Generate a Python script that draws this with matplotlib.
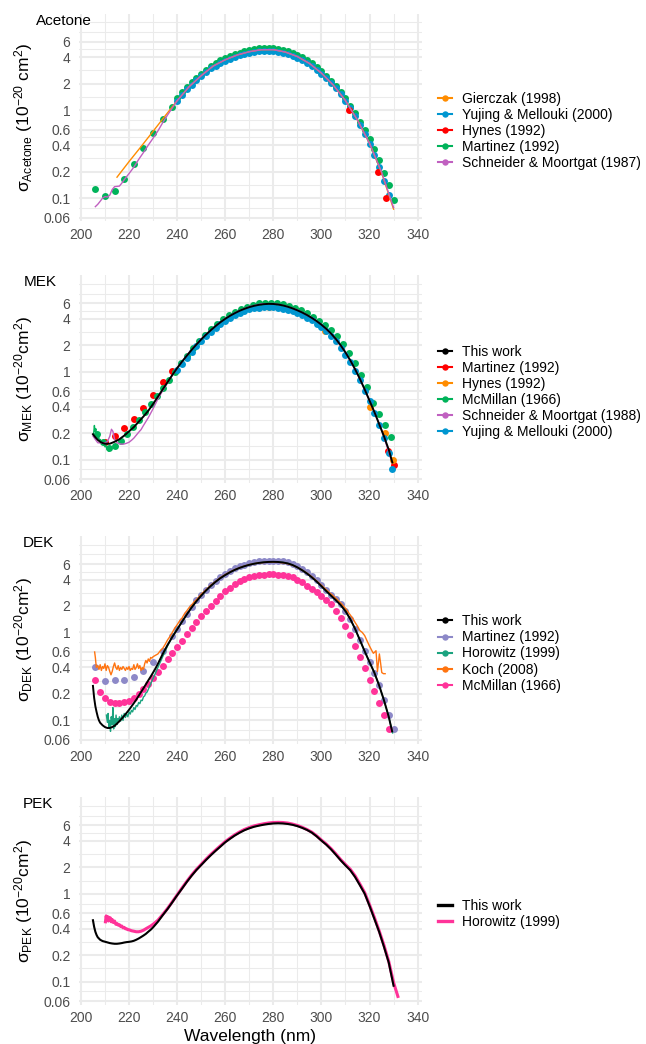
import matplotlib
matplotlib.use('Agg')
import matplotlib.pyplot as plt
from matplotlib.lines import Line2D
from matplotlib.ticker import NullLocator

plt.rcParams['font.family'] = ['Liberation Sans', 'DejaVu Sans']
plt.rcParams['mathtext.fontset'] = 'custom'
plt.rcParams['mathtext.rm'] = 'Liberation Sans'
plt.rcParams['mathtext.it'] = 'Liberation Sans:italic'
plt.rcParams['mathtext.bf'] = 'Liberation Sans:bold'

# ---------------- axis definitions ----------------
x_breaks = [200, 220, 240, 260, 280, 300, 320, 340]
y_breaks = [0.06, 0.1, 0.2, 0.4, 0.6, 1, 2, 4, 6]
y_labels = ['0.06', '0.1', '0.2', '0.4', '0.6', '1', '2', '4', '6']

# ---------------- Acetone ----------------
ac_gierczak_wl = [215, 220, 225, 230, 235, 240, 245, 250, 255, 260, 265, 270, 275, 280,
                  285, 290, 295, 300, 305, 310, 315, 320, 325, 330]
ac_gierczak = [0.173, 0.26, 0.385, 0.575, 0.86, 1.28, 1.85, 2.47, 3.18, 3.74, 4.24, 4.62, 4.87, 4.88,
               4.58, 4.07, 3.40, 2.64, 1.92, 1.29, 0.77, 0.42, 0.195, 0.075]

ac_yujing_wl = list(range(240, 329, 2))
ac_yujing = [1.28, 1.50, 1.72, 1.94, 2.18, 2.44, 2.72, 2.98, 3.22, 3.46,
             3.66, 3.85, 4.03, 4.20, 4.35, 4.48, 4.58, 4.66, 4.70, 4.70,
             4.67, 4.60, 4.48, 4.33, 4.15, 3.95, 3.72, 3.46, 3.18, 2.90,
             2.61, 2.32, 2.04, 1.77, 1.52, 1.28, 1.05, 0.85, 0.68, 0.53,
             0.41, 0.31, 0.225, 0.158, 0.108]

ac_hynes_wl = [311.6, 323.5, 327.0]
ac_hynes = [1.0, 0.2, 0.1]

ac_martinez_wl = [206, 210, 214, 218, 222, 226, 230, 234, 238] + list(range(240, 331, 2))
ac_martinez = [0.128, 0.106, 0.122, 0.166, 0.247, 0.37, 0.545, 0.79, 1.10,
               1.36, 1.60, 1.83, 2.07, 2.33, 2.60, 2.90, 3.18, 3.44, 3.70,
               3.92, 4.13, 4.33, 4.52, 4.69, 4.84, 4.96, 5.05, 5.10, 5.11,
               5.08, 5.00, 4.86, 4.70, 4.49, 4.26, 3.99, 3.71, 3.40, 3.09,
               2.78, 2.47, 2.17, 1.89, 1.62, 1.37, 1.13, 0.92, 0.74, 0.59,
               0.465, 0.36, 0.27, 0.195, 0.14, 0.095]

ac_schneider_wl = [206, 207, 208, 209, 210, 211, 212, 213, 214, 215, 216, 217, 218,
                   220, 222, 224, 226, 228, 230, 232, 234, 236, 238, 240,
                   245, 250, 255, 260, 265, 270, 275, 280, 285, 290, 295, 300, 305, 310,
                   315, 320, 325, 330]
ac_schneider = [0.080, 0.085, 0.092, 0.100, 0.104, 0.103, 0.108, 0.125, 0.135, 0.136, 0.137, 0.148, 0.162,
                0.19, 0.225, 0.275, 0.33, 0.40, 0.48, 0.58, 0.72, 0.88, 1.06, 1.28,
                1.85, 2.46, 3.17, 3.74, 4.24, 4.62, 4.87, 4.87, 4.58, 4.07, 3.40, 2.64, 1.92, 1.28,
                0.77, 0.42, 0.198, 0.078]

# ---------------- MEK ----------------
mek_this_wl = [205, 206, 207, 208, 209, 210] + list(range(212, 329, 2)) + [329.5]
mek_this = [0.195, 0.180, 0.168, 0.160, 0.155, 0.152,
            0.152, 0.160, 0.171, 0.188, 0.21, 0.235, 0.27, 0.31, 0.36, 0.43,
            0.52, 0.63, 0.76, 0.92, 1.10, 1.30, 1.52, 1.77, 2.04, 2.33,
            2.64, 2.97, 3.31, 3.66, 4.00, 4.33, 4.64, 4.94, 5.20, 5.43,
            5.62, 5.77, 5.87, 5.92, 5.90, 5.82, 5.68, 5.49, 5.26, 5.00,
            4.72, 4.42, 4.10, 3.77, 3.43, 3.08, 2.72, 2.36, 2.00, 1.66,
            1.35, 1.07, 0.83, 0.63, 0.47, 0.35, 0.255, 0.185, 0.13,
            0.093]

mek_martinez_wl = [210, 214, 218, 222, 226, 230, 234, 238, 327.8, 330.3]
mek_martinez = [0.16, 0.186, 0.228, 0.289, 0.39, 0.54, 0.76, 1.03, 0.125, 0.087]

mek_hynes_wl = [278, 301.5, 320, 326.4, 329.9]
mek_hynes = [5.5, 2.9, 0.40, 0.20, 0.10]

mek_mcmillan_wl = [206.5 + 2.5 * k for k in range(50)]
mek_mcmillan = [0.195, 0.16, 0.135, 0.143, 0.163, 0.195, 0.235, 0.285, 0.35, 0.43,
                0.53, 0.66, 0.81, 1.0, 1.25, 1.52, 1.86, 2.22, 2.62, 3.05,
                3.5, 3.95, 4.38, 4.8, 5.15, 5.5, 5.78, 5.98, 6.1, 6.12,
                6.05, 5.9, 5.65, 5.35, 5.0, 4.62, 4.22, 3.8, 3.38, 2.95,
                2.52, 2.05, 1.62, 1.25, 0.92, 0.68, 0.44, 0.33, 0.245, 0.18]
mek_mcmillan_trace_wl = [205.3, 205.6, 205.9, 206.2, 206.5, 206.8, 207.1, 207.4, 207.7, 208.0,
                         208.4, 208.8, 209.2, 209.6, 210.0, 210.4, 210.8, 211.2, 211.6, 212.0]
mek_mcmillan_trace = [0.20, 0.245, 0.21, 0.225, 0.19, 0.20, 0.175, 0.18, 0.165, 0.17,
                      0.155, 0.16, 0.148, 0.152, 0.14, 0.145, 0.132, 0.138, 0.125, 0.13]

mek_schneider_wl = [205, 206, 207, 208, 209, 210, 211, 212, 212.7, 213.3,
                    214, 215, 216, 217, 218, 219, 220, 221, 222, 223, 224, 225, 226,
                    228, 230, 232, 234, 236, 238, 240,
                    245, 250, 255, 260, 265, 270, 275, 280, 285, 290, 295, 300, 305, 310, 315, 320, 325,
                    329]
mek_schneider = [0.186, 0.17, 0.156, 0.155, 0.155, 0.156, 0.16, 0.185, 0.222, 0.21,
                 0.17, 0.156, 0.152, 0.150, 0.151, 0.154, 0.158, 0.166, 0.176, 0.19, 0.205, 0.22, 0.245,
                 0.30, 0.38, 0.49, 0.61, 0.75, 0.91, 1.10,
                 1.66, 2.36, 3.15, 4.05, 4.85, 5.50, 5.92, 5.97, 5.62, 5.05, 4.30, 3.45, 2.55, 1.67, 0.95, 0.47, 0.22,
                 0.10]

mek_yujing_wl = list(range(240, 329, 2)) + [329.5]
mek_yujing = [1.05, 1.24, 1.45, 1.69, 1.95, 2.23, 2.53, 2.84, 3.16, 3.49,
              3.81, 4.12, 4.41, 4.68, 4.92, 5.11, 5.26, 5.37, 5.43, 5.44,
              5.41, 5.34, 5.22, 5.06, 4.87, 4.64, 4.39, 4.12, 3.83, 3.52,
              3.20, 2.88, 2.54, 2.21, 1.88, 1.57, 1.28, 1.02, 0.80, 0.61,
              0.46, 0.34, 0.245, 0.175, 0.12,
              0.079]

# ---------------- DEK ----------------
dek_this_wl = [205, 205.5, 206, 206.5, 207, 207.5] + list(range(208, 241)) + list(range(242, 329, 2)) + [329.4]
dek_this = [0.247, 0.18, 0.145, 0.125, 0.11, 0.10,
            0.094, 0.088, 0.084, 0.082, 0.082, 0.084, 0.087, 0.092, 0.098, 0.105,
            0.113, 0.122, 0.132, 0.144, 0.157, 0.172, 0.19, 0.21, 0.232, 0.257,
            0.285, 0.315, 0.35, 0.39, 0.44, 0.50, 0.57, 0.64, 0.72, 0.80,
            0.89, 0.98, 1.08,
            1.32, 1.60, 1.92, 2.26, 2.62, 3.00, 3.38, 3.77, 4.15, 4.50,
            4.84, 5.15, 5.43, 5.67, 5.88, 6.05, 6.18, 6.28, 6.34, 6.36,
            6.33, 6.25, 6.10, 5.85, 5.50, 5.10, 4.68, 4.24, 3.80, 3.36,
            2.96, 2.62, 2.33, 2.05, 1.75, 1.42, 1.10, 0.82, 0.61, 0.46,
            0.35, 0.25, 0.17, 0.11,
            0.075]

dek_martinez_wl = [206, 210, 214, 218, 222, 226, 230, 234] + list(range(238, 331, 2))
dek_martinez = [0.41, 0.28, 0.285, 0.29, 0.31, 0.36, 0.46, 0.62,
                0.90, 1.10, 1.35, 1.64, 1.97, 2.32, 2.69, 3.08, 3.48, 3.88,
                4.28, 4.66, 5.02, 5.35, 5.65, 5.90, 6.12, 6.30, 6.43, 6.52,
                6.57, 6.57, 6.53, 6.43, 6.26, 6.00, 5.66, 5.27, 4.85, 4.40,
                3.94, 3.48, 3.06, 2.70, 2.38, 2.08, 1.76, 1.43, 1.10, 0.82,
                0.61, 0.46, 0.35, 0.25, 0.17, 0.115, 0.08]

dek_horowitz_wl = [210.6, 211.0, 211.3, 211.6, 212.0, 212.3, 212.6, 213.0, 213.3, 213.6,
                   214.0, 214.3, 214.6, 215.0, 215.3, 215.6, 216.0, 216.5, 217.0, 217.5,
                   218.0, 218.5, 219.0, 219.5, 220.0, 220.5, 221.0, 221.5, 222.0, 222.5,
                   223.0, 223.5, 224.0, 224.5, 225.0, 225.5, 226.0, 226.5, 227.0, 227.5, 228.0] \
                  + list(range(229, 241)) + list(range(242, 329, 2)) + [329.6]
dek_horowitz = [0.115, 0.095, 0.12, 0.085, 0.10, 0.075, 0.11, 0.09, 0.14, 0.08,
                0.105, 0.085, 0.115, 0.09, 0.105, 0.095, 0.11, 0.098, 0.115, 0.10,
                0.12, 0.108, 0.118, 0.11, 0.125, 0.118, 0.13, 0.125, 0.14, 0.133,
                0.148, 0.145, 0.16, 0.155, 0.17, 0.168, 0.185, 0.19, 0.205, 0.21, 0.225,
                0.26, 0.30, 0.345, 0.40, 0.46, 0.53, 0.61, 0.70, 0.79, 0.89, 0.99, 1.10,
                1.32, 1.60, 1.92, 2.26, 2.62, 3.00, 3.38, 3.77, 4.15, 4.50,
                4.84, 5.15, 5.43, 5.67, 5.88, 6.05, 6.18, 6.28, 6.34, 6.36,
                6.33, 6.25, 6.10, 5.85, 5.50, 5.10, 4.68, 4.24, 3.80, 3.36,
                2.96, 2.62, 2.33, 2.05, 1.75, 1.42, 1.10, 0.82, 0.61, 0.46,
                0.35, 0.25, 0.17, 0.11,
                0.072]

dek_koch_wl = [205.7, 206.0, 206.4, 207.0, 207.5, 208.0, 208.5, 209.0, 209.5, 210.0,
               210.5, 211.0, 211.5, 212.0, 212.5, 213.0, 213.5, 214.0, 214.5, 215.0,
               215.5, 216.0, 216.5, 217.0, 217.5, 218.0, 218.5, 219.0, 219.5, 220.0,
               220.5, 221.0, 221.5, 222.0, 222.5, 223.0, 223.5, 224.0, 224.5, 225.0,
               225.5, 226.0, 226.5, 227.0, 227.5, 228.0, 228.5, 229.0, 229.5, 230.0,
               231, 232, 233, 234, 235, 236, 237, 238, 239, 240, 241, 242, 243, 244, 245, 246, 247, 248] \
              + list(range(250, 311, 2)) \
              + [311, 312, 313, 314, 315, 316, 317, 318, 319, 320, 321, 321.6, 322.2, 322.7, 323.3,
                 323.7, 324.1, 324.6, 325.1, 325.8, 326.5]
dek_koch = [0.60, 0.52, 0.40, 0.42, 0.38, 0.43, 0.37, 0.41, 0.39, 0.44,
            0.37, 0.42, 0.40, 0.36, 0.33, 0.36, 0.41, 0.45, 0.40, 0.38,
            0.42, 0.37, 0.40, 0.38, 0.41, 0.39, 0.37, 0.40, 0.38, 0.41,
            0.37, 0.39, 0.38, 0.43, 0.38, 0.40, 0.44, 0.39, 0.42, 0.37,
            0.40, 0.38, 0.44, 0.48, 0.45, 0.50, 0.47, 0.52, 0.51, 0.53,
            0.55, 0.57, 0.62, 0.66, 0.73, 0.82, 0.90, 1.00, 1.12, 1.22, 1.35, 1.45, 1.62, 1.76, 1.92, 2.05, 2.22, 2.35,
            2.72, 3.05, 3.45, 3.80, 4.20, 4.55, 4.88, 5.18, 5.45, 5.70,
            5.90, 6.05, 6.18, 6.25, 6.30, 6.32, 6.28, 6.20, 6.05, 5.82,
            5.50, 5.12, 4.72, 4.30, 3.86, 3.44, 3.06, 2.74, 2.45, 2.17, 1.88,
            1.72, 1.58, 1.45, 1.30, 1.18, 1.05, 1.0, 0.92, 0.80, 0.70, 0.62, 0.58, 0.60, 0.62, 0.36,
            0.45, 0.57, 0.45, 0.35, 0.34, 0.34]

dek_mcmillan_wl = list(range(206, 329, 2))
dek_mcmillan = [0.287, 0.212, 0.181, 0.163, 0.158, 0.157, 0.16, 0.168, 0.182, 0.202,
                0.228, 0.262, 0.305, 0.355, 0.42, 0.50, 0.59, 0.69, 0.81, 0.96,
                1.13, 1.31, 1.53, 1.76, 2.02, 2.30, 2.60, 2.93, 3.22, 3.52,
                3.80, 4.03, 4.22, 4.38, 4.49, 4.56, 4.60, 4.60, 4.56, 4.49,
                4.38, 4.22, 3.96, 3.70, 3.40, 3.15, 2.88, 2.62, 2.36, 2.08,
                1.76, 1.46, 1.18, 0.93, 0.71, 0.53, 0.39, 0.29, 0.215, 0.157,
                0.115, 0.080]

# ---------------- PEK ----------------
pek_this_wl = [205, 205.5, 206, 206.5, 207] + list(range(208, 231)) + list(range(232, 331, 2))
pek_this = [0.50, 0.42, 0.37, 0.34, 0.32,
            0.30, 0.29, 0.285, 0.28, 0.275, 0.272, 0.270, 0.270, 0.272, 0.275,
            0.279, 0.282, 0.284, 0.287, 0.292, 0.30, 0.31, 0.322, 0.335, 0.35,
            0.37, 0.39, 0.415,
            0.48, 0.57, 0.67, 0.80, 0.96, 1.14, 1.36, 1.60, 1.86, 2.12,
            2.42, 2.74, 3.08, 3.44, 3.85, 4.22, 4.60, 4.95, 5.28, 5.55,
            5.78, 5.95, 6.10, 6.22, 6.30, 6.33, 6.30, 6.22, 6.08, 5.88,
            5.62, 5.32, 4.96, 4.50, 4.02, 3.62, 3.20, 2.78, 2.40, 2.10,
            1.85, 1.55, 1.25, 1.0, 0.73, 0.52, 0.37, 0.25, 0.165, 0.09]

pek_horowitz_wl = [210.2, 210.5, 210.8, 211.1, 211.4, 211.7, 212.0, 212.3, 212.6, 213.0,
                   213.5, 214.0, 214.5, 215.0, 215.5, 216.0, 216.5, 217.0, 217.5, 218.0,
                   218.5, 219.0, 219.5, 220.0,
                   221, 222, 223, 224, 225, 226, 227, 228, 229, 230,
                   232, 234, 236, 238, 240] + list(range(242, 331, 2)) + [331.8]
pek_horowitz = [0.48, 0.56, 0.50, 0.55, 0.49, 0.54, 0.50, 0.53, 0.48, 0.51,
                0.47, 0.49, 0.45, 0.46, 0.44, 0.445, 0.425, 0.43, 0.41, 0.415,
                0.40, 0.40, 0.39, 0.39,
                0.38, 0.375, 0.37, 0.37, 0.375, 0.385, 0.40, 0.415, 0.43, 0.45,
                0.50, 0.58, 0.68, 0.81, 0.97,
                1.16, 1.38, 1.63, 1.89, 2.16, 2.47, 2.80, 3.14, 3.51, 3.92,
                4.30, 4.69, 5.05, 5.39, 5.67, 5.91, 6.09, 6.25, 6.38, 6.46,
                6.49, 6.46, 6.37, 6.20, 5.98, 5.70, 5.38, 5.02, 4.56, 4.08,
                3.68, 3.26, 2.84, 2.45, 2.15, 1.90, 1.60, 1.29, 1.03, 0.75,
                0.54, 0.38, 0.26, 0.17, 0.098,
                0.068]

# ---------------- colours ----------------
C_ORANGE = '#FF8C00'
C_BLUE = '#0096D0'
C_RED = '#FF0000'
C_GREEN = '#00B35A'
C_PURPLE = '#C060C0'
C_BLACK = '#000000'
C_LAV = '#8D89C8'
C_TEAL = '#1BA37F'
C_KOCH = '#FF7410'
C_PINK = '#FF3399'

# ---------------- layout ----------------
W, H = 646, 1044
fig = plt.figure(figsize=(W / 100, H / 100), dpi=100)
PL, PR = 79.0, 421.7
XLIM = (199.2, 341.7)
YLIM = (0.0545, 12.5)
panel_tops = [13.7, 275.3, 536.0, 797.3]
PH = 207.6
MS = 5.0
TICK_COLOR = '#4D4D4D'
GRID_C = '#EBEBEB'
y_minor = [0.0775, 0.1414, 0.283, 0.49, 0.775, 1.414, 2.83, 4.9, 7.75, 10]
x_minor = [210, 230, 250, 270, 290, 310, 330]


def make_axes(top):
    ax = fig.add_axes([PL / W, 1 - (top + PH) / H, (PR - PL) / W, PH / H])
    ax.set_yscale('log')
    ax.set_xlim(*XLIM)
    ax.set_ylim(*YLIM)
    ax.set_xticks(x_breaks)
    ax.set_xticklabels([str(v) for v in x_breaks])
    ax.set_yticks(y_breaks)
    ax.set_yticklabels(y_labels)
    ax.yaxis.set_minor_locator(NullLocator())
    ax.set_yticks(y_minor, minor=True)
    ax.set_xticks(x_minor, minor=True)
    ax.yaxis.set_minor_formatter(matplotlib.ticker.NullFormatter())
    ax.tick_params(which='both', length=0, labelsize=10, labelcolor=TICK_COLOR)
    ax.tick_params(axis='y', pad=6.2)
    ax.tick_params(axis='x', pad=4.5)
    ax.grid(which='major', color=GRID_C, lw=1.45)
    ax.grid(which='minor', color=GRID_C, lw=0.75)
    ax.set_axisbelow(True)
    for s in ax.spines.values():
        s.set_visible(False)
    return ax


def pts(ax, x, y, c, z=3):
    ax.plot(x, y, 'o', ms=MS, mew=0, color=c, zorder=z)


def line(ax, x, y, c, lw=1.0, z=4):
    ax.plot(x, y, '-', lw=lw, color=c, zorder=z, solid_joinstyle='round')


def add_legend(ax, entries, cy, thick=False):
    handles = []
    labels = []
    for lab, c in entries:
        if thick:
            h = Line2D([0], [0], color=c, lw=2.4)
        else:
            h = Line2D([0], [0], color=c, lw=1.5, marker='o', ms=4.6, mew=0)
        handles.append(h)
        labels.append(lab)
    ax.legend(handles, labels, loc='center left', bbox_to_anchor=(438.5 / W, 1 - cy / H),
              bbox_transform=fig.transFigure, frameon=False, borderpad=0, borderaxespad=0,
              handlelength=0.95, handletextpad=0.72, labelspacing=0.15, fontsize=10)


def ylab(top, name, space):
    cy = top + PH / 2
    sp = r'\ ' if space else ''
    txt = r'$\mathregular{σ_{%s}\ (10^{-20}%scm^{2})}$' % (name, sp)
    fig.text(24 / W, 1 - cy / H, txt, rotation=90, ha='center', va='center', fontsize=12.5)


# Panel 1: Acetone
ax1 = make_axes(panel_tops[0])
pts(ax1, ac_martinez_wl, ac_martinez, C_GREEN, 3)
pts(ax1, ac_yujing_wl, ac_yujing, C_BLUE, 3.1)
pts(ax1, ac_hynes_wl, ac_hynes, C_RED, 3.2)
line(ax1, ac_gierczak_wl, ac_gierczak, C_ORANGE, 1.0, 4)
line(ax1, ac_schneider_wl, ac_schneider, C_PURPLE, 1.0, 4.1)
add_legend(ax1, [('Gierczak (1998)', C_ORANGE), ('Yujing & Mellouki (2000)', C_BLUE),
                 ('Hynes (1992)', C_RED), ('Martinez (1992)', C_GREEN),
                 ('Schneider & Moortgat (1987)', C_PURPLE)], 131)
ylab(panel_tops[0], 'Acetone', True)
fig.text(35.7 / W, 1 - 25 / H, 'Acetone', fontsize=11, va='baseline')

# Panel 2: MEK
ax2 = make_axes(panel_tops[1])
pts(ax2, mek_martinez_wl, mek_martinez, C_RED, 3)
pts(ax2, mek_hynes_wl, mek_hynes, C_ORANGE, 3.1)
pts(ax2, mek_mcmillan_wl, mek_mcmillan, C_GREEN, 3.2)
line(ax2, mek_mcmillan_trace_wl, mek_mcmillan_trace, C_GREEN, 1.0, 3.3)
pts(ax2, mek_yujing_wl, mek_yujing, C_BLUE, 3.4)
line(ax2, mek_schneider_wl, mek_schneider, C_PURPLE, 1.0, 4)
line(ax2, mek_this_wl, mek_this, C_BLACK, 1.4, 5)
add_legend(ax2, [('This work', C_BLACK), ('Martinez (1992)', C_RED), ('Hynes (1992)', C_ORANGE),
                 ('McMillan (1966)', C_GREEN), ('Schneider & Moortgat (1988)', C_PURPLE),
                 ('Yujing & Mellouki (2000)', C_BLUE)], 392)
ylab(panel_tops[1], 'MEK', False)
fig.text(24 / W, 1 - 286 / H, 'MEK', fontsize=11, va='baseline')

# Panel 3: DEK
ax3 = make_axes(panel_tops[2])
pts(ax3, dek_martinez_wl, dek_martinez, C_LAV, 3)
pts(ax3, dek_mcmillan_wl, dek_mcmillan, C_PINK, 3.1)
line(ax3, dek_horowitz_wl, dek_horowitz, C_TEAL, 1.0, 4)
line(ax3, dek_koch_wl, dek_koch, C_KOCH, 1.0, 4.1)
line(ax3, dek_this_wl, dek_this, C_BLACK, 1.4, 5)
add_legend(ax3, [('This work', C_BLACK), ('Martinez (1992)', C_LAV), ('Horowitz (1999)', C_TEAL),
                 ('Koch (2008)', C_KOCH), ('McMillan (1966)', C_PINK)], 653.5)
ylab(panel_tops[2], 'DEK', False)
fig.text(22.7 / W, 1 - 547.3 / H, 'DEK', fontsize=11, va='baseline')

# Panel 4: PEK
ax4 = make_axes(panel_tops[3])
line(ax4, pek_horowitz_wl, pek_horowitz, C_PINK, 2.2, 4)
line(ax4, pek_this_wl, pek_this, C_BLACK, 1.5, 5)
add_legend(ax4, [('This work', C_BLACK), ('Horowitz (1999)', C_PINK)], 914.3, thick=True)
ylab(panel_tops[3], 'PEK', False)
fig.text(22.7 / W, 1 - 808.3 / H, 'PEK', fontsize=11, va='baseline')

fig.text(250.4 / W, 1 - 1041 / H, 'Wavelength (nm)', ha='center', va='baseline', fontsize=12.5)

fig.savefig('out.png', dpi=100, facecolor='white')
